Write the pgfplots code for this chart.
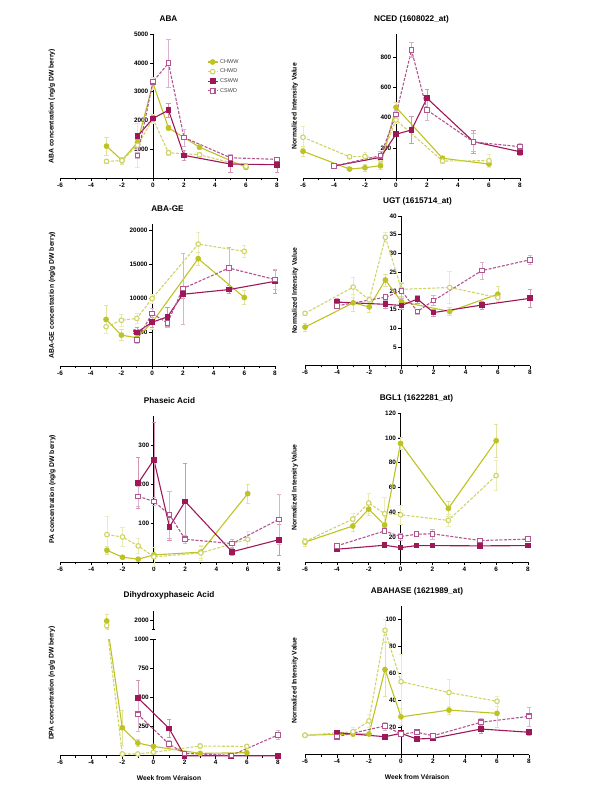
\documentclass[border=0pt]{standalone}
\usepackage{pgfplots}
\pgfplotsset{compat=1.18}
\usepackage{fontspec}
\setmainfont{Liberation Sans}
\definecolor{cA}{RGB}{190,195,36}
\definecolor{cB}{RGB}{208,212,104}
\definecolor{cC}{RGB}{158,24,88}
\definecolor{cD}{RGB}{178,86,146}
\pgfplotsset{
  panel/.style={
    scale only axis, xmin=-6, xmax=8, ymin=0,
    axis x line=bottom, axis y line=center,
    axis line style={-, line width=0.8pt, black},
    xtick={-6,-4,...,8}, minor x tick num=1,
    tick align=outside, major tick length=3pt, minor tick length=1.8pt,
    tick style={black, line width=0.6pt},
    hide obscured x ticks=false, hide obscured y ticks=false,
    scaled y ticks=false,
    /pgf/number format/assume math mode=true,
    /pgf/number format/set thousands separator={},
    tick label style={font=\fontsize{6.4}{7}\selectfont\bfseries, inner sep=1.5pt},
    every axis y label/.style={rotate=90, anchor=center, font=\fontsize{6.8}{8}\selectfont\bfseries},
    every axis title/.style={at={(rel axis cs:0.5,1)}, anchor=center, yshift=15pt, font=\fontsize{8.2}{10}\selectfont\bfseries},
    every axis x label/.style={at={(rel axis cs:0.5,0)}, anchor=center, yshift=-22pt, font=\fontsize{6.7}{8}\selectfont\bfseries},
    clip=false,
  },
  ebar/.style={/pgfplots/error bars/y dir=both, /pgfplots/error bars/y explicit,
    /pgfplots/error bars/error bar style={#1!45, line width=0.5pt, solid},
    /pgfplots/error bars/error mark options={rotate=90, mark size=2.2pt, #1!45, line width=0.5pt, solid}},
  sA/.style={cA, line width=1.1pt, solid, mark=*, mark size=2.3pt, mark options={solid, fill=cA}, ebar=cA},
  sB/.style={cB, line width=1.1pt, dash pattern=on 3pt off 1.5pt, mark=*, mark size=2.3pt, mark options={solid, fill=white}, ebar=cB},
  sC/.style={cC, line width=1.1pt, solid, mark=square*, mark size=2.3pt, mark options={solid, fill=cC}, ebar=cC},
  sD/.style={cD, line width=1.1pt, dash pattern=on 3pt off 1.5pt, mark=square*, mark size=2.3pt, mark options={solid, fill=white}, ebar=cD},
}
\begin{document}
\begin{tikzpicture}
\path[use as bounding box] (0,0) rectangle (600pt,800pt);

% ---------- ABA ----------
\begin{axis}[panel, at={(60pt,621.5pt)}, anchor=south west, width=217pt, height=144.5pt,
  ymax=5000, ytick={1000,2000,3000,4000,5000},
  title={ABA}, ylabel={ABA concentration (ng/g DW berry)},
  ylabel style={at={(rel axis cs:-0.037,0.5)}},
  legend image code/.code={\draw[mark repeat=2,mark phase=2,#1] plot coordinates {(0pt,0pt) (5pt,0pt) (10pt,0pt)};},
  legend style={at={(rel axis cs:0.677,0.84)}, anchor=north west, draw=none, fill=none,
    font=\fontsize{5.5}{6}\selectfont, text=black!75, row sep=0.3pt, inner sep=0pt},
  legend cell align=left]
\addplot[sA] table[x=x,y=y,y error=e,row sep=\\]{x y e\\ -3 1120 320\\ -2 627 120\\ -1 1248 250\\ 0 3300 200\\ 1 1752 100\\ 3 1086 80\\ 6 386 60\\};
\addlegendentry{CHWW}
\addplot[sB] table[x=x,y=y,y error=e,row sep=\\]{x y e\\ -3 593 80\\ -2 620 80\\ -1 1150 750\\ 0 2063 150\\ 1 890 80\\ 3 820 100\\ 6 420 60\\};
\addlegendentry{CHWD}
\addplot[sC] table[x=x,y=y,y error=e,row sep=\\]{x y e\\ -1 1465 100\\ 0 2080 100\\ 1 2362 250\\ 2 800 180\\ 5 500 280\\ 8 476 260\\};
\addlegendentry{CSWW}
\addplot[sD] table[x=x,y=y,y error=e,row sep=\\]{x y e\\ -1 800 100\\ 0 3350 100\\ 1 3993 820\\ 2 1420 300\\ 5 717 130\\ 8 662 60\\};
\addlegendentry{CSWD}
\end{axis}

% ---------- NCED ----------
\begin{axis}[panel, at={(303pt,621.5pt)}, anchor=south west, width=217pt, height=144.5pt,
  ymax=950, ytick={200,400,600,800},
  title={NCED (1608022\_at)}, ylabel={Normalized Intensity Value},
  ylabel style={at={(rel axis cs:-0.037,0.5)}}]
\addplot[sA] table[x=x,y=y,y error=e,row sep=\\]{x y e\\ -6 179 30\\ -3 62 10\\ -2 71 25\\ -1 84 20\\ 0 468 30\\ 3 133 15\\ 6 95 20\\};
\addplot[sB] table[x=x,y=y,y error=e,row sep=\\]{x y e\\ -6 271 70\\ -3 143 10\\ -2 145 25\\ -1 126 25\\ 0 385 20\\ 3 115 15\\ 6 117 45\\};
\addplot[sC] table[x=x,y=y,y error=e,row sep=\\]{x y e\\ -4 82 10\\ -1 139 20\\ 0 291 15\\ 1 319 90\\ 2 528 60\\ 5 242 75\\ 8 176 25\\};
\addplot[sD] table[x=x,y=y,y error=e,row sep=\\]{x y e\\ -4 82 10\\ -1 150 30\\ 0 420 30\\ 1 845 50\\ 2 450 70\\ 5 240 60\\ 8 209 20\\};
\end{axis}

% ---------- ABA-GE ----------
\begin{axis}[panel, at={(60pt,433.7pt)}, anchor=south west, width=215pt, height=142.3pt,
  ymax=21000, ytick={5000,10000,15000,20000},
  title={ABA-GE}, ylabel={ABA-GE concentration (ng/g DW berry)},
  ylabel style={at={(rel axis cs:-0.037,0.5)}}]
\addplot[sA] table[x=x,y=y,y error=e,row sep=\\]{x y e\\ -3 6910 2100\\ -2 4600 800\\ -1 4210 800\\ 0 6470 1000\\ 3 15880 900\\ 6 10150 1000\\};
\addplot[sB] table[x=x,y=y,y error=e,row sep=\\]{x y e\\ -3 5830 1000\\ -2 6800 900\\ -1 7060 700\\ 0 10000 700\\ 3 18030 1800\\ 6 16960 900\\};
\addplot[sC] table[x=x,y=y,y error=e,row sep=\\]{x y e\\ -1 5000 700\\ 0 6500 700\\ 1 7300 1400\\ 2 10630 600\\ 5 11320 600\\ 8 12540 1700\\};
\addplot[sD] table[x=x,y=y,y error=e,row sep=\\]{x y e\\ -1 3870 400\\ 0 7790 800\\ 1 6400 700\\ 2 11470 5200\\ 5 14500 3000\\ 8 12800 1500\\};
\end{axis}

% ---------- UGT ----------
\begin{axis}[panel, at={(305pt,434.3pt)}, anchor=south west, width=225pt, height=149.7pt,
  ymax=40, ytick={5,10,...,40},
  title={UGT (1615714\_at)}, ylabel={Normalized Intensity Value},
  ylabel style={at={(rel axis cs:-0.044,0.5)}}]
\addplot[sA] table[x=x,y=y,y error=e,row sep=\\]{x y e\\ -6 10.3 1\\ -3 16.8 2.3\\ -2 15.7 1.5\\ -1 22.9 1.6\\ 0 17.1 1.5\\ 3 14.5 1\\ 6 19.1 2\\};
\addplot[sB] table[x=x,y=y,y error=e,row sep=\\]{x y e\\ -6 14.0 0.5\\ -3 21.0 2.6\\ -2 17.6 1\\ -1 34.3 1.3\\ 0 20.4 2\\ 3 20.9 4.3\\ 6 18.2 1\\};
\addplot[sC] table[x=x,y=y,y error=e,row sep=\\]{x y e\\ -4 17.0 1\\ -1 16.4 1\\ 0 16.1 1\\ 1 17.8 1\\ 2 14.2 1\\ 5 16.2 1\\ 8 18.0 2.3\\};
\addplot[sD] table[x=x,y=y,y error=e,row sep=\\]{x y e\\ -4 16.0 0.5\\ -1 18.3 0.8\\ 0 20.0 2\\ 1 14.5 0.7\\ 2 17.4 1.3\\ 5 25.4 2.2\\ 8 28.3 1.2\\};
\end{axis}

% ---------- Phaseic Acid ----------
\begin{axis}[panel, at={(60pt,237.7pt)}, anchor=south west, width=219pt, height=146.3pt,
  ymax=375, ytick={100,200,300},
  title={Phaseic Acid}, ylabel={PA concentration (ng/g DW berry)},
  ylabel style={at={(rel axis cs:-0.035,0.5)}}]
\addplot[sA] table[x=x,y=y,y error=e,row sep=\\]{x y e\\ -3 31 10\\ -2 13 3\\ -1 8 3\\ 0 19 5\\ 3 26 15\\ 6 176 25\\};
\addplot[sB] table[x=x,y=y,y error=e,row sep=\\]{x y e\\ -3 71 48\\ -2 65 25\\ -1 42 20\\ 0 14 25\\ 3 24 20\\ 6 59 20\\};
\addplot[sC] table[x=x,y=y,y error=e,row sep=\\]{x y e\\ -1 203 65\\ 0 263 97\\ 1 91 35\\ 2 156 98\\ 5 27 10\\ 8 58 40\\};
\addplot[sD] table[x=x,y=y,y error=e,row sep=\\]{x y e\\ -1 169 25\\ 0 156 10\\ 1 122 60\\ 2 59 10\\ 5 48 10\\ 8 110 65\\};
\end{axis}

% ---------- BGL1 ----------
\begin{axis}[panel, at={(305pt,238pt)}, anchor=south west, width=223pt, height=149pt,
  ymax=120, ytick={20,40,...,120},
  title={BGL1 (1622281\_at)}, ylabel={Normalized Intensity Value},
  ylabel style={at={(rel axis cs:-0.045,0.5)}}]
\addplot[sA] table[x=x,y=y,y error=e,row sep=\\]{x y e\\ -6 16 3\\ -3 29 4\\ -2 42.6 5\\ -1 29.7 2\\ 0 95.5 5\\ 3 43.2 6\\ 6 97.7 13\\};
\addplot[sB] table[x=x,y=y,y error=e,row sep=\\]{x y e\\ -6 16.4 2\\ -3 34.6 5\\ -2 47.5 8\\ -1 38.9 13\\ 0 38 8\\ 3 33.5 5\\ 6 69.6 12\\};
\addplot[sC] table[x=x,y=y,y error=e,row sep=\\]{x y e\\ -4 10.3 1\\ -1 13.5 1\\ 0 11.6 1\\ 1 13.2 1\\ 2 13.2 1\\ 5 13 1\\ 8 13.2 1\\};
\addplot[sD] table[x=x,y=y,y error=e,row sep=\\]{x y e\\ -4 13 1\\ -1 25 2\\ 0 20.5 3\\ 1 22.4 2\\ 2 22.7 4\\ 5 17.3 1\\ 8 18.4 1\\};
\end{axis}

% ---------- Dihydroxyphaseic Acid (broken axis) ----------
\begin{axis}[panel, at={(60pt,44.3pt)}, anchor=south west, width=218pt, height=145pt,
  ymax=2100,
  y coord trafo/.code={\pgfmathparse{(#1>1000)*(1086+(#1-1900)*0.8)+(#1<=1000)*(#1)}},
  ytick={250,500,750,1000,2000}, yticklabels={250,500,750,1000,2000},
  title={Dihydroxyphaseic Acid}, ylabel={DPA concentration (ng/g DW berry)},
  xlabel={Week from Véraison},
  ylabel style={at={(rel axis cs:-0.037,0.5)}}]
\addplot[sA] table[x=x,y=y,y error=e,row sep=\\]{x y e\\ -3 1990 60\\ -2 240 150\\ -1 109 30\\ 0 80 10\\ 3 20 5\\ 6 26 5\\};
\addplot[sB] table[x=x,y=y,y error=e,row sep=\\]{x y e\\ -3 1940 50\\ -2 15 10\\ -1 15 10\\ 0 30 10\\ 3 83 20\\ 6 80 10\\};
\addplot[sC] table[x=x,y=y,y error=e,row sep=\\]{x y e\\ -1 498 150\\ 1 235 80\\ 2 0 0\\ 5 0 0\\ 8 0 0\\};
\addplot[sD] table[x=x,y=y,y error=e,row sep=\\]{x y e\\ -1 356 150\\ 1 100 30\\ 2 20 5\\ 5 3 3\\ 8 178 40\\};
\fill[white] (rel axis cs:0.18,0.808) rectangle (rel axis cs:0.26,0.868);
\fill[white] (rel axis cs:0.42,0.808) rectangle (rel axis cs:0.437,0.868);
\draw[black, line width=0.6pt] (rel axis cs:0.4286,0.8026) -- ++(3pt,0pt);
\draw[black, line width=0.6pt] (rel axis cs:0.4286,0.8716) ++(-1.5pt,0pt) -- ++(3pt,0pt);
\end{axis}

% ---------- ABAHASE ----------
\begin{axis}[panel, at={(305pt,45.3pt)}, anchor=south west, width=224pt, height=148.7pt,
  ymax=110, ytick={20,40,...,100},
  title={ABAHASE (1621989\_at)}, ylabel={Normalized Intensity Value},
  xlabel={Week from Véraison},
  ylabel style={at={(rel axis cs:-0.045,0.5)}}]
\addplot[sA] table[x=x,y=y,y error=e,row sep=\\]{x y e\\ -6 14.4 1\\ -3 15.3 1\\ -2 15.3 1\\ -1 63 20\\ 0 28 6\\ 3 33 3\\ 6 30.6 10\\};
\addplot[sB] table[x=x,y=y,y error=e,row sep=\\]{x y e\\ -6 14.4 1\\ -3 17 3\\ -2 25 5\\ -1 92 8\\ 0 54 20\\ 3 46 10\\ 6 39.5 4\\};
\addplot[sC] table[x=x,y=y,y error=e,row sep=\\]{x y e\\ -4 16.3 1.5\\ -1 13.3 1.5\\ 0 15.8 1.5\\ 1 11.6 1.5\\ 2 12.1 1.5\\ 5 19 3\\ 8 16.6 2\\};
\addplot[sD] table[x=x,y=y,y error=e,row sep=\\]{x y e\\ -4 13.3 1.5\\ -1 21.3 3\\ 0 15.3 1.5\\ 1 16.6 1.5\\ 2 14 1.5\\ 5 24 3\\ 8 28.4 7\\};
\end{axis}
\end{tikzpicture}
\end{document}
